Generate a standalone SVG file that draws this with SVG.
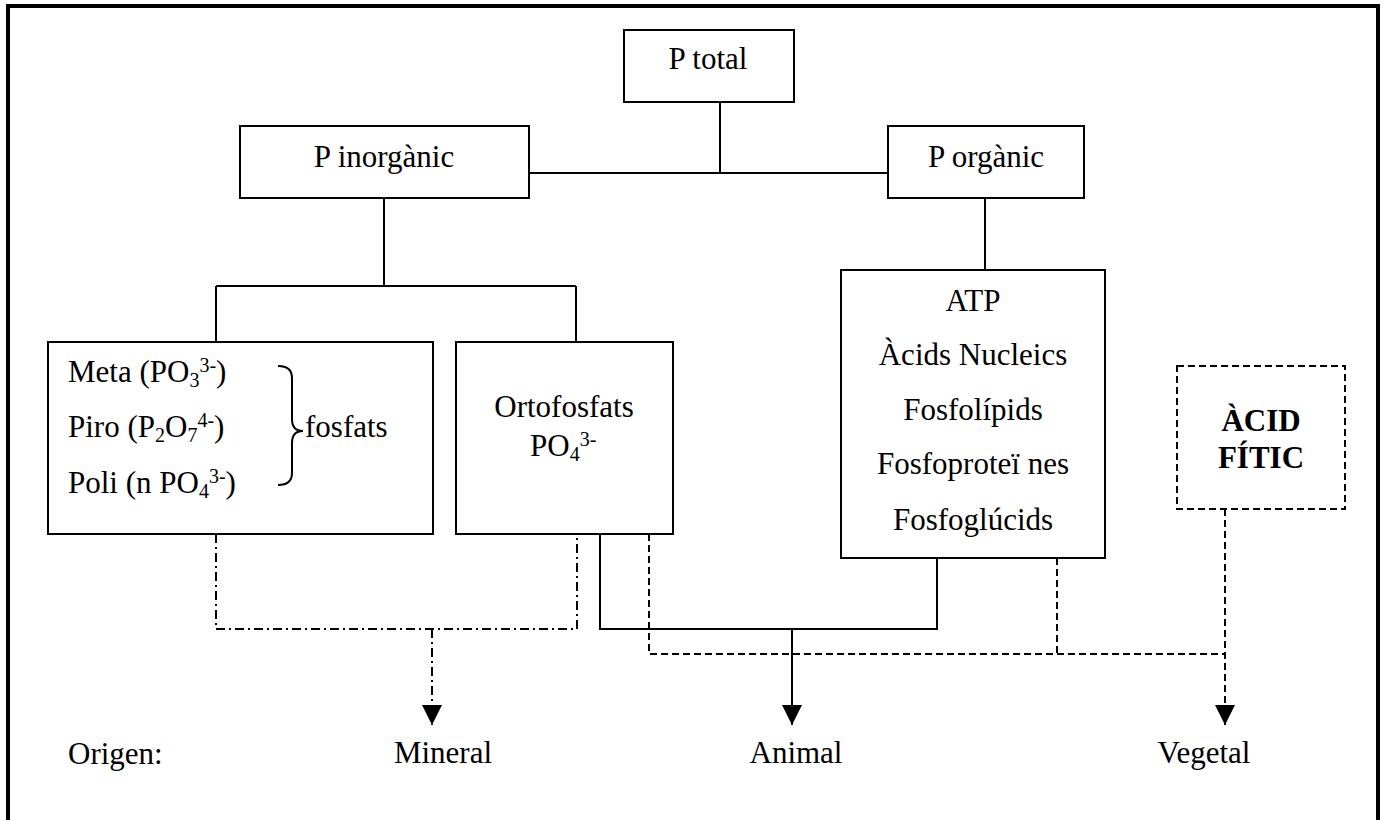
<svg xmlns="http://www.w3.org/2000/svg" width="1384" height="820" viewBox="0 0 1384 820">
  <style>
    text { font-family: "Liberation Serif", "Times New Roman", serif; font-size: 31px; fill: #000; }
    .c { text-anchor: middle; }
    .b { font-weight: bold; }
    .s { font-size: 20px; }
    .box { fill: #fff; stroke: #000; stroke-width: 2; }
    .dbox { fill: #fff; stroke: #000; stroke-width: 2; stroke-dasharray: 7 4; }
    .solid { fill: none; stroke: #000; stroke-width: 2; }
    .dash { fill: none; stroke: #000; stroke-width: 2; stroke-dasharray: 7 4; }
    .dashdot { fill: none; stroke: #000; stroke-width: 2; stroke-dasharray: 9 4 2 4; }
  </style>
  <defs>
    <marker id="arrow" viewBox="0 0 20 20" refX="20" refY="10" markerWidth="20" markerHeight="20" markerUnits="userSpaceOnUse" orient="auto">
      <path d="M0,0 L20,10 L0,20 z" fill="#000" stroke="none"/>
    </marker>
  </defs>

  <rect width="1384" height="820" fill="#fff"/>
  <!-- outer frame -->
  <rect x="8" y="6" width="1370" height="830" fill="none" stroke="#000" stroke-width="4"/>

  <!-- connectors -->
  <g id="connectors">
    <!-- tree -->
    <path class="solid" d="M720,102 V173 M529,173 H888"/>
    <path class="solid" d="M384,198 V286 M216,286 H576 M216,286 V342 M576,286 V342"/>
    <path class="solid" d="M985,198 V270"/>
    <!-- mineral -->
    <path class="dashdot" d="M216,534 V629 H577 V534"/>
    <path class="dashdot" d="M432,629 V725" marker-end="url(#arrow)"/>
    <!-- animal -->
    <path class="solid" d="M600,534 V629 H937 V558"/>
    <path class="solid" d="M792,629 V725" marker-end="url(#arrow)"/>
    <!-- vegetal -->
    <path class="dash" d="M649,534 V654 H1225"/>
    <path class="dash" d="M1057,558 V654"/>
    <path class="dash" d="M1225,509 V725" marker-end="url(#arrow)"/>
  </g>

  <g id="p-total">
    <rect class="box" x="624" y="30" width="170" height="72"/>
    <text class="c" x="708" y="69">P total</text>
  </g>

  <g id="p-inorganic">
    <rect class="box" x="240" y="126" width="289" height="72"/>
    <text class="c" x="384" y="167">P inorgànic</text>
  </g>

  <g id="p-organic">
    <rect class="box" x="888" y="126" width="196" height="72"/>
    <text class="c" x="986" y="167">P orgànic</text>
  </g>

  <g id="fosfats">
    <rect class="box" x="48" y="342" width="385" height="192"/>
    <text x="68" y="382">Meta (PO<tspan class="s" dy="5">3</tspan><tspan class="s" dy="-15">3-</tspan><tspan dy="10">)</tspan></text>
    <text x="68" y="437">Piro (P<tspan class="s" dy="5">2</tspan><tspan dy="-5">O</tspan><tspan class="s" dy="5">7</tspan><tspan class="s" dy="-15">4-</tspan><tspan dy="10">)</tspan></text>
    <text x="68" y="493">Poli (n PO<tspan class="s" dy="5">4</tspan><tspan class="s" dy="-15">3-</tspan><tspan dy="10">)</tspan></text>
    <path class="solid" d="M278,366 Q292,366 292,378 L292,419 Q292,431 303,431 Q292,431 292,443 L292,473 Q292,485 278,485"/>
    <text x="305" y="437">fosfats</text>
  </g>

  <g id="ortofosfats">
    <rect class="box" x="456" y="342" width="217" height="192"/>
    <text class="c" x="564" y="417">Ortofosfats</text>
    <text x="530" y="456">PO<tspan class="s" dy="5">4</tspan><tspan class="s" dy="-15">3-</tspan></text>
  </g>

  <g id="organic-compounds">
    <rect class="box" x="841" y="270" width="264" height="288"/>
    <text class="c" x="973" y="311">ATP</text>
    <text class="c" x="973" y="365">Àcids Nucleics</text>
    <text class="c" x="973" y="420">Fosfolípids</text>
    <text class="c" x="973" y="474">Fosfoproteï nes</text>
    <text class="c" x="973" y="530">Fosfoglúcids</text>
  </g>

  <g id="acid-fitic">
    <rect class="dbox" x="1177" y="366" width="168" height="143"/>
    <text class="c b" x="1261" y="431">ÀCID</text>
    <text class="c b" x="1261" y="468">FÍTIC</text>
  </g>

  <g id="origins">
    <text x="68" y="764">Origen:</text>
    <text class="c" x="443" y="763">Mineral</text>
    <text class="c" x="796" y="763">Animal</text>
    <text class="c" x="1204" y="763">Vegetal</text>
  </g>
</svg>
